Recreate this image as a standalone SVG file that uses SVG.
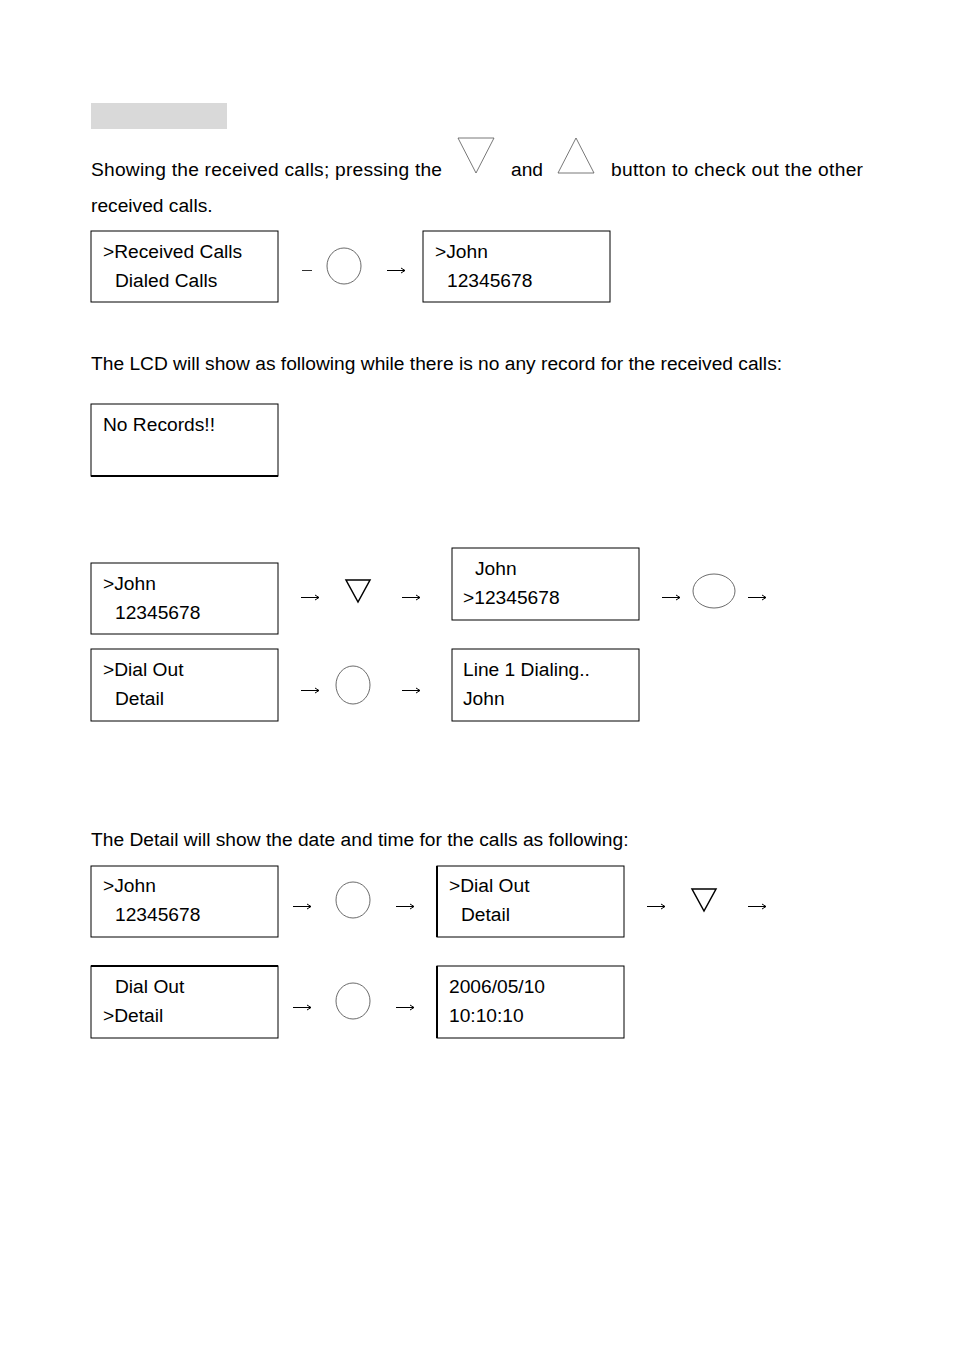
<svg xmlns="http://www.w3.org/2000/svg" width="954" height="1350" viewBox="0 0 954 1350">
<defs>
<path id="arrow" d="M0,0 H18 M14,-2.5 L18,0 L14,2.5" fill="none" stroke="#000" stroke-width="1"/>
</defs>
<style>
text{font-family:"Liberation Sans",Arial,sans-serif;font-size:19.2px;fill:#000}
.box{fill:#fff;stroke:#000;stroke-width:1}
.btn{fill:none;stroke:#444;stroke-width:0.8}
.tri{fill:none;stroke:#000;stroke-width:1.5}
.big{fill:none;stroke:#555;stroke-width:0.8}
</style>
<rect width="954" height="1350" fill="#fff"/>
<rect x="91" y="103" width="136" height="26" fill="#d9d9d9"/>
<g id="intro">
<text x="91" y="176" textLength="351" lengthAdjust="spacing">Showing the received calls; pressing the</text>
<polygon class="big" points="458,138 494,138 476,173"/>
<text x="511" y="176">and</text>
<polygon class="big" points="576,138 594,173 558,173"/>
<text x="611" y="176" textLength="252" lengthAdjust="spacing">button to check out the other</text>
<text x="91" y="212">received calls.</text>
<text x="91" y="370">The LCD will show as following while there is no any record for the received calls:</text>
<text x="91" y="846">The Detail will show the date and time for the calls as following:</text>
</g>
<g id="n1"><rect class="box" x="91" y="231" width="187" height="71"/><text x="103" y="258">&gt;Received Calls</text><text x="115" y="287">Dialed Calls</text></g>
<g id="n2"><rect class="box" x="423" y="231" width="187" height="71"/><text x="435" y="258">&gt;John</text><text x="447" y="287">12345678</text></g>
<g id="n3"><rect class="box" x="91" y="404" width="187" height="72"/><line x1="91" y1="476" x2="278" y2="476" stroke="#000" stroke-width="2"/><text x="103" y="431">No Records!!</text></g>
<g id="n4"><rect class="box" x="91" y="563" width="187" height="71"/><text x="103" y="590">&gt;John</text><text x="115" y="619">12345678</text></g>
<g id="n5"><rect class="box" x="452" y="548" width="187" height="72" stroke-width="1.5"/><text x="475" y="575">John</text><text x="463" y="604">&gt;12345678</text></g>
<g id="n6"><rect class="box" x="91" y="649" width="187" height="72"/><text x="103" y="676">&gt;Dial Out</text><text x="115" y="705">Detail</text></g>
<g id="n7"><rect class="box" x="452" y="649" width="187" height="72" stroke-width="1.5"/><text x="463" y="676">Line 1 Dialing..</text><text x="463" y="705">John</text></g>
<g id="n8"><rect class="box" x="91" y="866" width="187" height="71"/><text x="103" y="892">&gt;John</text><text x="115" y="921">12345678</text></g>
<g id="n9"><rect class="box" x="437" y="866" width="187" height="71"/><line x1="437" y1="866" x2="437" y2="937" stroke="#000" stroke-width="2"/><text x="449" y="892">&gt;Dial Out</text><text x="461" y="921">Detail</text></g>
<g id="n10"><rect class="box" x="91" y="966" width="187" height="72"/><line x1="91" y1="966" x2="278" y2="966" stroke="#000" stroke-width="2"/><text x="115" y="993">Dial Out</text><text x="103" y="1022">&gt;Detail</text></g>
<g id="n11"><rect class="box" x="437" y="966" width="187" height="72"/><line x1="437" y1="966" x2="437" y2="1038" stroke="#000" stroke-width="2"/><text x="449" y="993">2006/05/10</text><text x="449" y="1022">10:10:10</text></g>
<g id="connectors">
<line x1="302" y1="270.5" x2="312" y2="270.5" stroke="#333" stroke-width="1"/>
<ellipse class="btn" cx="344" cy="266" rx="17" ry="18"/>
<use href="#arrow" x="387" y="270.5"/>
<use href="#arrow" x="301" y="597.5"/>
<polygon class="tri" points="346,580 370,580 358,602"/>
<use href="#arrow" x="402" y="597.5"/>
<use href="#arrow" x="662" y="597.5"/>
<ellipse class="btn" cx="714" cy="591" rx="21" ry="17"/>
<use href="#arrow" x="748" y="597.5"/>
<use href="#arrow" x="301" y="690.5"/>
<ellipse class="btn" cx="353" cy="685" rx="17" ry="19"/>
<use href="#arrow" x="402" y="690.5"/>
<use href="#arrow" x="293" y="906.5"/>
<ellipse class="btn" cx="353" cy="900" rx="17" ry="18"/>
<use href="#arrow" x="396" y="906.5"/>
<use href="#arrow" x="647" y="906.5"/>
<polygon class="tri" points="692,889 716,889 704,911"/>
<use href="#arrow" x="748" y="906.5"/>
<use href="#arrow" x="293" y="1007.5"/>
<ellipse class="btn" cx="353" cy="1001" rx="17" ry="18"/>
<use href="#arrow" x="396" y="1007.5"/>
</g>
</svg>
